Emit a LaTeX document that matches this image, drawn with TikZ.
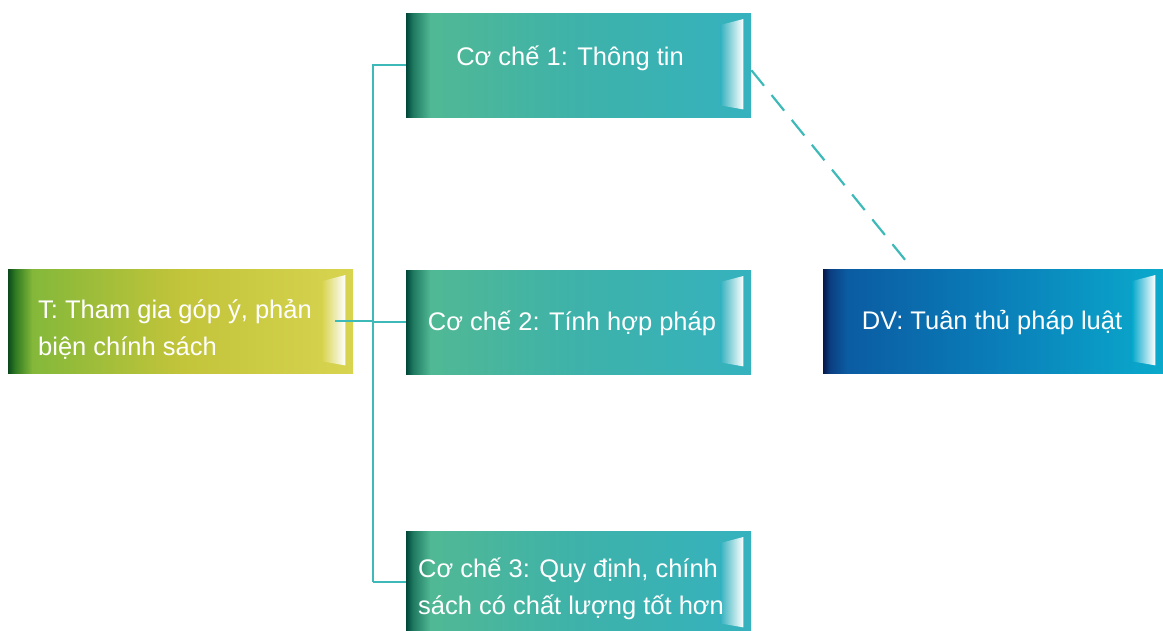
\documentclass[tikz,border=0pt]{standalone}
\usepackage{fontspec}
\setmainfont{Liberation Sans}
\usetikzlibrary{calc}
\definecolor{lineteal}{HTML}{3DBAB8}
\definecolor{HTMLa}{HTML}{2E7A22}
\definecolor{HTMLb}{HTML}{84B83A}
\definecolor{HTMLc}{HTML}{C2C43A}
\definecolor{HTMLd}{HTML}{D8D450}
\definecolor{tdark}{HTML}{0D4A1C}
\pgfdeclarehorizontalshading{tgrad}{100bp}{color(0bp)=(tdark); color(25bp)=(tdark); color(26bp)=(HTMLa); color(28.5bp)=(HTMLb); color(50bp)=(HTMLc); color(75bp)=(HTMLd); color(100bp)=(HTMLd)}
\definecolor{cdark}{HTML}{00483A}
\definecolor{ca}{HTML}{1F7A60}
\definecolor{cb}{HTML}{50B894}
\definecolor{cc}{HTML}{3EB2AA}
\definecolor{cd}{HTML}{35B2BE}
\pgfdeclarehorizontalshading{cgrad}{100bp}{color(0bp)=(cdark); color(25bp)=(cdark); color(26bp)=(ca); color(28.5bp)=(cb); color(50bp)=(cc); color(75bp)=(cd); color(100bp)=(cd)}
\definecolor{ddark}{HTML}{08184A}
\definecolor{da}{HTML}{0B3F82}
\definecolor{db}{HTML}{0B5CA2}
\definecolor{dc}{HTML}{0A7DB8}
\definecolor{dd}{HTML}{0AAACC}
\pgfdeclarehorizontalshading{dgrad}{100bp}{color(0bp)=(ddark); color(25bp)=(ddark); color(26bp)=(da); color(28.5bp)=(db); color(50bp)=(dc); color(75bp)=(dd); color(100bp)=(dd)}
\tikzset{
  box/.style={minimum width=345pt, minimum height=104pt, inner sep=0pt, draw=none},
  lbl/.style={text=white, font=\fontsize{25.5}{37}\selectfont, inner sep=0pt},
  conn/.style={draw=lineteal, line width=2pt},
  dconn/.style={draw=lineteal, line width=2.2pt, dash pattern=on 20pt off 12pt},
}
\newcommand{\flap}[2]{%
  \shade[left color=#2, right color=white] ($(#1.north east)+(-31,-12)$) -- ($(#1.north east)+(-8,-6)$) -- ($(#1.south east)+(-8,8)$) -- ($(#1.south east)+(-31,12)$) -- cycle;}
\begin{document}
\begin{tikzpicture}[x=1pt,y=1pt]
\useasboundingbox (0,0) rectangle (1163,-630);
% boxes
\node[box, shading=tgrad, anchor=north west] (t) at (8,-269) {};
\node[box, shading=cgrad, anchor=north west] (c1) at (406,-13) {};
\node[box, shading=cgrad, anchor=north west] (c2) at (406,-270) {};
\node[box, shading=cgrad, anchor=north west] (c3) at (406,-531) {};
\node[box, shading=dgrad, anchor=north west, minimum width=340pt] (dv) at (823,-269) {};
\flap{t}{HTMLd}
\flap{c1}{cd}
\flap{c2}{cd}
\flap{c3}{cd}
\flap{dv}{dd}
% labels
\node[lbl, align=left, anchor=west] (tl) at (38,-329) {T: Tham gia góp ý, phản\\biện chính sách};
\node[lbl] (c1l) at (570,-58) {Cơ chế 1: Thông tin};
\node[lbl] (c2l) at (572,-323) {Cơ chế 2: Tính hợp pháp};
\node[lbl, align=left, anchor=west] (c3l) at (418,-589) {Cơ chế 3: Quy định, chính\\sách có chất lượng tốt hơn};
\node[lbl] (dvl) at (992,-323) {DV: Tuân thủ pháp luật};
% connectors
\coordinate (bus) at (373,-320);
\draw[conn] ($(t.east)+(-18,0)$) -- (bus |- t.east);
\draw[conn] (c1.west |- 0,-65) -| (bus |- 0,-582);
\draw[conn] (bus |- c2.west) -- (c2.west);
\draw[conn] (bus |- 0,-582) -- (c3.west |- 0,-582);
\draw[dconn] ($(c1.east)+(0,-5)$) -- ($(dv.north west)!0.263!(dv.north east)$);
\end{tikzpicture}
\end{document}
